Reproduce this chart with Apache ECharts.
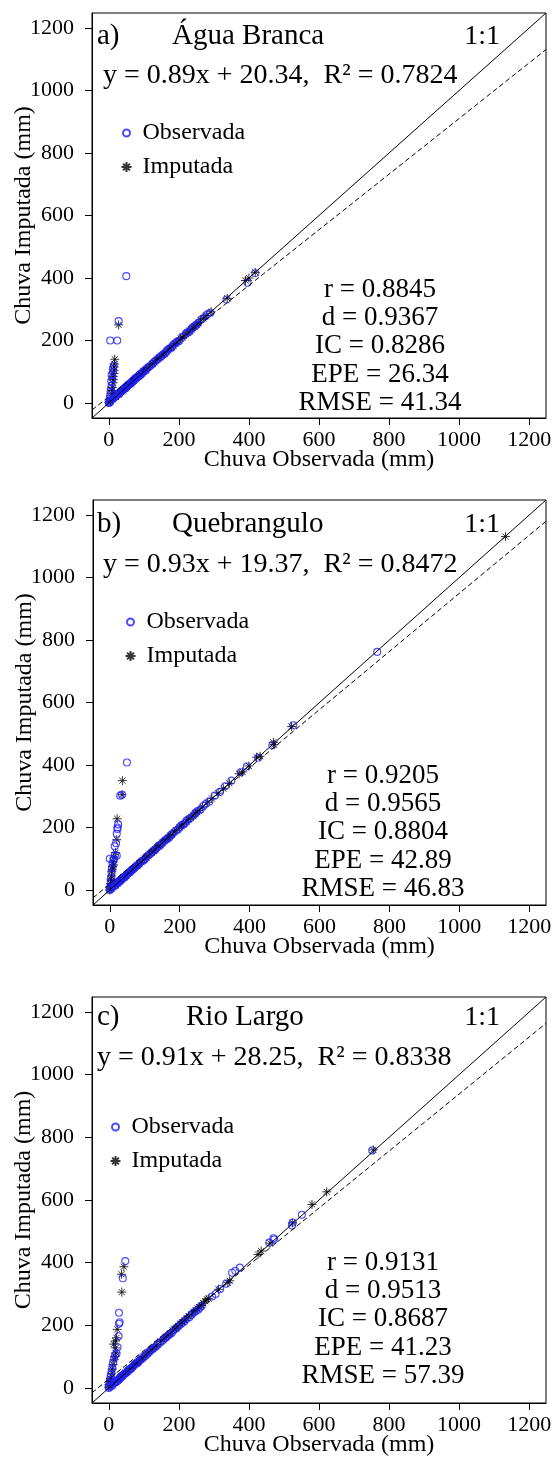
<!DOCTYPE html>
<html>
<head>
<meta charset="utf-8">
<script src="https://cdn.jsdelivr.net/npm/echarts@6/dist/echarts.min.js"></script>
<style>
  body { margin: 0; background: #fff; }
  #chart { width: 553px; height: 1468px; }
</style>
</head>
<body>
<div id="chart"></div>
<script>
// estações
const stations = ["Água Branca", "Quebrangulo", "Rio Largo"];
const tags = ["a)", "b)", "c)"];

// ajuste linear y = a x + b
const slopes = [0.89, 0.93, 0.91];
const intercepts = [20.34, 19.37, 28.25];
const r2 = [0.7824, 0.8472, 0.8338];

// estatísticas
const statR = [0.8845, 0.9205, 0.9131];
const statD = [0.9367, 0.9565, 0.9513];
const statIC = [0.8286, 0.8804, 0.8687];
const statEPE = [26.34, 42.89, 41.23];
const statRMSE = [41.34, 46.83, 57.39];

// eixos
const axisTicks = [0, 200, 400, 600, 800, 1000, 1200];

// Observada (x = chuva observada, y = chuva imputada)
const obsA = [
  [2,5],[3,15],[4,25],[5,35],[6,45],[8,55],[7,70],[10,80],[8,90],[12,100],[12,110],[14,120],
  [4,200],[24,200],[28,262],[50,406],
  [0,0],[2,2],[5,8],[10,12],[15,18],[20,22],[25,28],[18,20],[22,25],[28,30],
  [30,32],[33,35],[35,38],[38,40],[40,42],[42,44],[45,47],[48,50],[50,52],[53,55],[55,58],
  [58,60],[60,62],[63,64],[65,66],[68,70],[70,72],[73,74],[75,78],[78,80],[80,82],[83,84],
  [85,86],[88,90],[90,92],[93,94],[95,96],[98,100],[100,102],[105,106],[110,112],[115,116],
  [120,121],[125,126],[130,132],[135,137],[140,141],[145,146],[150,150],[155,156],[160,158],
  [165,166],[170,172],[175,175],[180,178],[185,187],[190,192],[195,196],[200,198],[210,212],
  [220,222],[225,226],[230,228],[235,236],[240,242],[245,246],[250,250],[255,256],[265,268],
  [275,277],[282,285],[290,289],[336,331],[396,385],[418,415]
];
const impA = [
  [5,10],[8,30],[10,40],[10,50],[12,65],[13,75],[12,85],[14,95],[15,105],[15,115],[16,125],
  [17,140],[28,250],
  [0,2],[5,5],[12,12],[20,20],[28,26],
  [30,31],[32,33],[35,35],[38,37],[42,41],[45,45],[48,48],[52,51],[55,55],[58,59],[62,61],
  [64,63],[68,68],[72,71],[76,76],[80,80],[84,85],[88,88],[92,91],[95,95],[100,100],
  [105,104],[108,108],[112,113],[118,118],[125,125],[130,130],[135,136],[140,141],[145,146],
  [150,151],[155,154],[160,160],[165,165],[170,170],[175,176],[180,181],[185,184],[190,190],
  [195,195],[200,201],[205,206],[210,210],[215,214],[220,220],[225,226],[230,231],[235,236],
  [240,240],[245,244],[250,250],[255,256],[262,266],[270,271],[278,280],[292,292],[338,335],
  [390,392],[400,400],[418,418]
];
const obsB = [
  [0,5],[2,12],[3,25],[4,40],[5,55],[6,70],[8,85],[0,100],[10,95],[12,100],[15,112],[20,110],
  [14,140],[18,150],[20,180],[22,195],[22,200],[24,210],[30,302],[35,305],[49,408],
  [0,0],[3,3],[8,10],[15,14],[20,22],[25,24],[18,18],[23,25],[27,28],
  [30,31],[33,33],[35,36],[38,39],[40,41],[43,42],[45,44],[48,49],[50,51],[54,55],[58,57],
  [62,63],[65,66],[68,68],[72,72],[76,77],[80,79],[85,86],[90,91],[95,94],[100,98],[105,106],
  [110,111],[115,115],[120,121],[125,126],[130,128],[135,136],[140,142],[145,144],[150,150],
  [155,156],[160,161],[165,164],[170,168],[175,176],[180,181],[188,189],[195,194],[200,201],
  [205,207],[210,209],[215,214],[220,222],[225,226],[232,231],[240,239],[245,246],[250,252],
  [260,258],[268,269],[275,276],[285,283],[300,302],[315,314],[330,332],[348,350],[375,377],
  [392,395],[425,423],[465,463],[525,527],[765,762]
];
const impB = [
  [0,10],[2,20],[3,35],[5,45],[6,60],[8,75],[10,90],[12,105],[16,120],[20,161],[21,228],
  [35,305],[36,350],[4,30],[7,65],[11,80],
  [0,0],[5,4],[10,10],[16,15],[22,21],
  [28,27],[30,30],[33,34],[36,35],[38,38],[41,40],[44,45],[48,47],[52,51],[56,56],[60,61],
  [64,63],[68,67],[72,73],[76,77],[80,80],[85,84],[90,89],[95,96],[100,100],[105,104],
  [110,109],[115,116],[120,119],[125,124],[130,131],[135,136],[140,139],[145,144],[150,151],
  [158,159],[163,162],[168,169],[173,174],[178,177],[184,185],[190,191],[200,200],[205,204],
  [210,211],[220,218],[226,227],[232,233],[238,237],[245,246],[250,249],[255,254],[265,266],
  [280,281],[292,293],[310,310],[325,324],[342,341],[370,372],[380,378],[398,397],[420,425],
  [430,428],[468,473],[470,465],[520,523],[1132,1131]
];
const obsC = [
  [0,5],[2,15],[3,25],[5,35],[6,43],[8,53],[10,65],[12,80],[15,95],[18,105],[22,110],[25,130],
  [28,165],[29,205],[31,210],[29,240],[40,350],[47,405],
  [0,0],[4,4],[10,8],[15,16],[20,18],[25,22],[30,28],[18,21],[27,27],
  [33,32],[35,36],[38,40],[40,38],[44,45],[48,47],[52,50],[55,56],[58,59],[62,60],[66,65],
  [70,70],[74,75],[78,79],[82,80],[85,84],[90,91],[95,93],[100,99],[105,104],[110,109],
  [115,114],[120,120],[125,124],[130,128],[135,133],[140,139],[148,146],[154,152],[160,158],
  [165,163],[170,168],[175,172],[180,176],[186,185],[192,190],[198,196],[205,203],[210,208],
  [215,212],[222,220],[230,226],[236,234],[242,240],[248,245],[255,250],[260,256],[265,262],
  [295,292],[305,300],[318,316],[335,333],[352,368],[361,374],[374,384],[458,464],[472,474],
  [470,478],[523,519],[551,553],[525,528],[752,758]
];
const impC = [
  [0,10],[3,20],[5,30],[8,45],[10,60],[12,75],[15,90],[18,100],[20,112],[20,128],[22,160],
  [24,187],[37,306],[36,363],[43,387],[14,140],[19,150],
  [0,2],[6,6],[12,11],[18,17],[24,23],
  [30,30],[33,34],[36,36],[40,41],[45,44],[48,49],[52,53],[56,55],[60,62],[64,63],[68,67],
  [72,73],[75,76],[79,78],[82,83],[87,86],[92,91],[96,97],[100,101],[105,104],[110,110],
  [115,116],[120,121],[125,124],[130,131],[135,134],[140,139],[148,149],[155,154],[160,161],
  [165,166],[170,169],[175,174],[182,183],[188,189],[193,192],[198,198],[204,205],[210,210],
  [216,215],[222,223],[228,229],[235,234],[242,243],[248,247],[253,254],[258,258],[264,263],
  [270,271],[275,277],[280,283],[285,285],[313,315],[340,336],[345,342],[426,426],[435,437],
  [460,462],[524,527],[580,586],[622,626],[755,760]
];
const observada = [obsA, obsB, obsC];
const imputada = [impA, impB, impC];

// layout (pixels)
const AX_MIN = -48, AX_MAX = 1248;
const FONT = "'Liberation Serif', 'Times New Roman', serif";
const STAR = "path://M5 0L5 10M0 5L10 5M1.6 1.6L8.4 8.4M8.4 1.6L1.6 8.4";
// circle of radius 3.5 padded inside a 10x10 box (for the legend icon)
const SMALL_CIRCLE = "path://M0 0M10 10M8.5 5A3.5 3.5 0 1 1 1.5 5A3.5 3.5 0 1 1 8.5 5Z";
const layout = [
  { grid: { left: 92, top: 13, width: 454, height: 405 }, tagX: 97, nameX: 172, headY: 36, eqX: 103, eqY: 76,
    legX: 119, legY: 121, statX: 380, statY: 290 },
  { grid: { left: 93, top: 500, width: 453, height: 405 }, tagX: 97, nameX: 172, headY: 524, eqX: 103, eqY: 565,
    legX: 123, legY: 610, statX: 383, statY: 776 },
  { grid: { left: 92, top: 997, width: 454, height: 406 }, tagX: 97, nameX: 186, headY: 1017, eqX: 97, eqY: 1058,
    legX: 108, legY: 1115, statX: 383, statY: 1263 }
];

const chart = echarts.init(document.getElementById("chart"));

const grid = [], xAxis = [], yAxis = [], series = [], legend = [], graphic = [];
const txt = (x, y, text, size, align) => ({
  type: "text", x: x, y: y, silent: true,
  style: { text: text, fill: "#000", font: size + "px " + FONT, align: align || "left", verticalAlign: "middle" }
});

layout.forEach((L, i) => {
  grid.push(Object.assign({ show: true, borderColor: "#000", borderWidth: 1, backgroundColor: "#fff",
    outerBoundsMode: "none", containLabel: false }, L.grid));
  const axisBase = {
    gridIndex: i, type: "value", min: AX_MIN, max: AX_MAX,
    axisLine: { show: true, onZero: false, lineStyle: { color: "#000", width: 1 } },
    axisTick: { show: true, length: 7, customValues: axisTicks, lineStyle: { color: "#000", width: 1 } },
    splitLine: { show: false },
    nameLocation: "middle",
    nameMoveOverlap: false,
    nameTextStyle: { fontSize: 24, fontFamily: FONT, color: "#000" }
  };
  const labelBase = { customValues: axisTicks, fontSize: 22, fontFamily: FONT, color: "#000",
    formatter: (v) => String(v) };
  xAxis.push(Object.assign({}, axisBase, {
    name: "Chuva Observada (mm)", nameGap: 30,
    axisLabel: Object.assign({ margin: 11 }, labelBase)
  }));
  yAxis.push(Object.assign({}, axisBase, {
    name: "Chuva Imputada (mm)", nameGap: 56,
    axisLabel: Object.assign({ margin: 18 }, labelBase)
  }));

  const a = slopes[i], b = intercepts[i];
  series.push(
    { type: "line", name: "1:1", xAxisIndex: i, yAxisIndex: i, symbol: "none", silent: true,
      lineStyle: { color: "#000", width: 1 }, data: [[AX_MIN, AX_MIN], [AX_MAX, AX_MAX]] },
    { type: "line", name: "ajuste", xAxisIndex: i, yAxisIndex: i, symbol: "none", silent: true,
      lineStyle: { color: "#000", width: 1, type: [5, 3] },
      data: [[AX_MIN, a * AX_MIN + b], [AX_MAX, a * AX_MAX + b]] },
    { type: "scatter", name: "Imputada", xAxisIndex: i, yAxisIndex: i, symbol: STAR, symbolSize: 9,
      itemStyle: { color: "none", borderColor: "#000", borderWidth: 1 }, data: imputada[i] },
    { type: "scatter", name: "Observada", xAxisIndex: i, yAxisIndex: i, symbol: "circle", symbolSize: 7,
      itemStyle: { color: "none", borderColor: "#1f1fff", borderWidth: 1.1 }, data: observada[i] }
  );

  legend.push({
    orient: "vertical", left: L.legX, top: L.legY, padding: 0, itemWidth: 10, itemHeight: 10, itemGap: 10,
    selectedMode: false,
    data: [{ name: "Observada", icon: SMALL_CIRCLE }, { name: "Imputada", icon: STAR }],
    textStyle: { fontSize: 24, fontFamily: FONT, color: "#000", padding: [0, 0, 0, 6] }
  });

  graphic.push(
    txt(L.tagX, L.headY, tags[i], 29),
    txt(L.nameX, L.headY, stations[i], 29),
    txt(500, L.headY + 1, "1:1", 28, "right"),
    txt(L.eqX, L.eqY, "y = " + a.toFixed(2) + "x + " + b.toFixed(2) + ",  R² = " + r2[i].toFixed(4), 28)
  );
  const stats = [
    "r = " + statR[i].toFixed(4),
    "d = " + statD[i].toFixed(4),
    "IC = " + statIC[i].toFixed(4),
    "EPE = " + statEPE[i].toFixed(2),
    "RMSE = " + statRMSE[i].toFixed(2)
  ];
  stats.forEach((s, k) => graphic.push(txt(L.statX, L.statY + k * 28.2, s, 27, "center")));
});

chart.setOption({
  animation: false,
  grid: grid,
  xAxis: xAxis,
  yAxis: yAxis,
  legend: legend,
  series: series,
  graphic: graphic
});
</script>
</body>
</html>
